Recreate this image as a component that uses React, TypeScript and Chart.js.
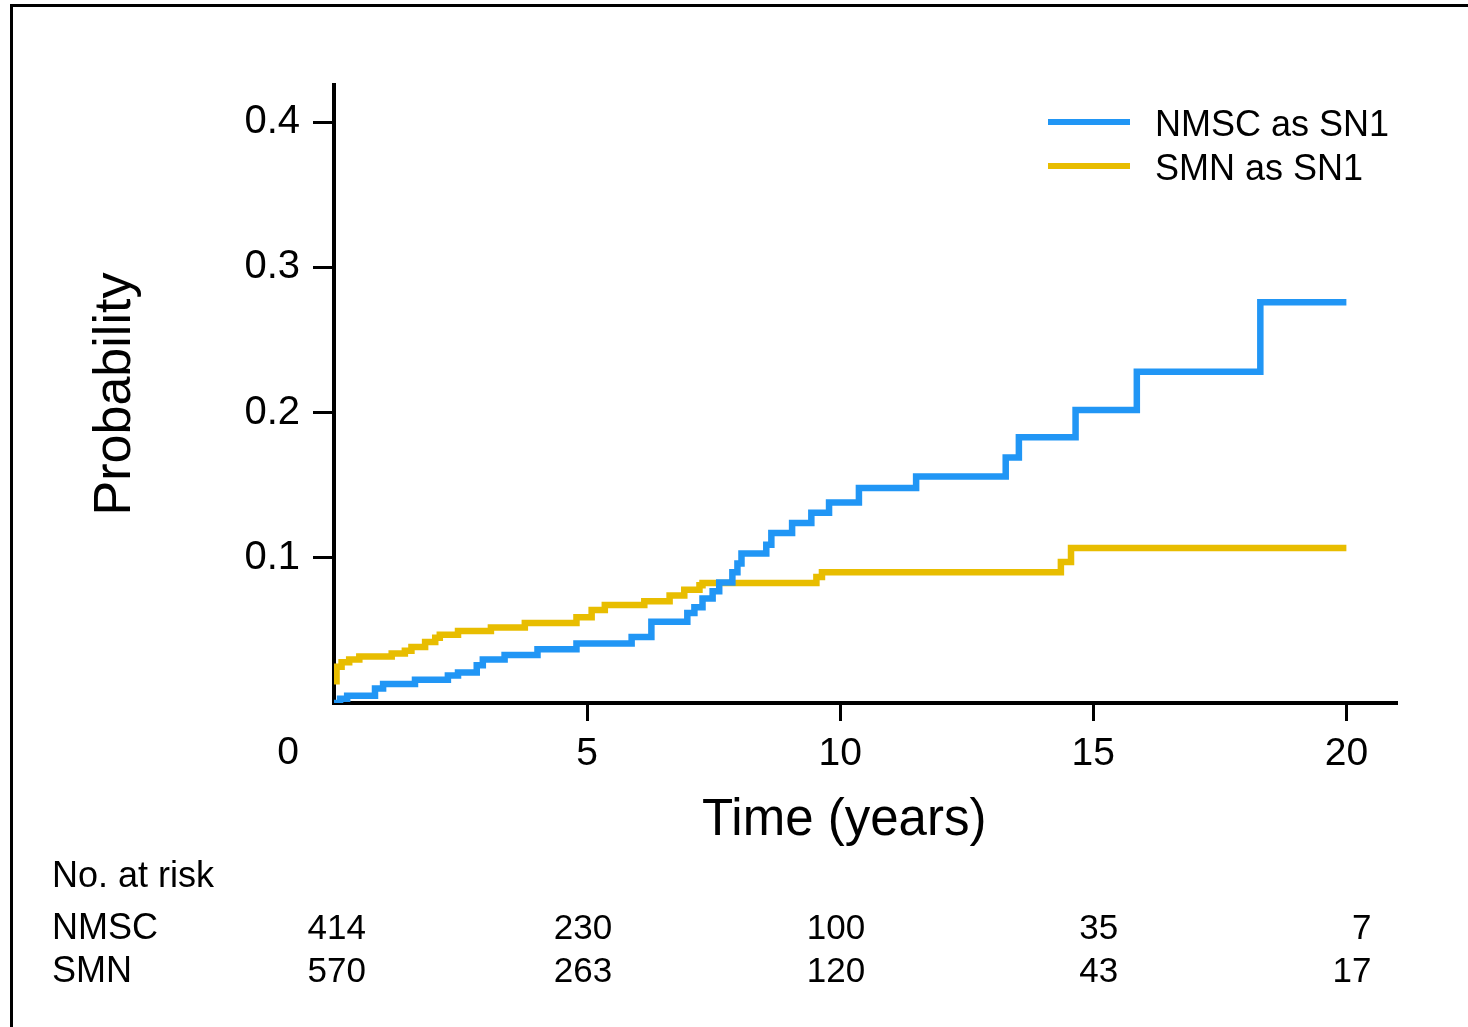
import React, { useEffect, useRef } from 'react';
import { Chart, registerables } from 'chart.js';

Chart.register(...registerables);

const FONT = "'Liberation Sans', Arial, Helvetica, sans-serif";

// Cumulative incidence step curves (time in years, probability)
const nmscTimes = [0, 0.12, 0.26, 0.81, 0.97, 1.6, 2.25, 2.45, 2.82, 2.94, 3.37, 4.02, 4.79, 5.88, 6.27, 6.98, 7.12, 7.28, 7.48, 7.61, 7.87, 7.97, 8.05, 8.54, 8.64, 9.05, 9.43, 9.78, 10.37, 11.5, 13.27, 13.53, 14.65, 15.86, 18.3, 20];
const nmscProb = [0, 0.003, 0.005, 0.01, 0.013, 0.016, 0.019, 0.021, 0.026, 0.03, 0.033, 0.037, 0.041, 0.0455, 0.056, 0.062, 0.066, 0.072, 0.077, 0.083, 0.09, 0.096, 0.103, 0.109, 0.117, 0.124, 0.131, 0.138, 0.148, 0.156, 0.169, 0.183, 0.2017, 0.228, 0.276, 0.276];

const smnTimes = [0, 0.05, 0.15, 0.3, 0.5, 1.14, 1.4, 1.53, 1.8, 2.0, 2.09, 2.45, 3.1, 3.77, 4.79, 5.09, 5.35, 6.13, 6.63, 6.92, 7.22, 7.28, 9.53, 9.64, 14.36, 14.56, 20];
const smnProb = [0.015, 0.025, 0.028, 0.03, 0.032, 0.034, 0.036, 0.0386, 0.042, 0.045, 0.047, 0.0496, 0.052, 0.055, 0.059, 0.064, 0.0675, 0.07, 0.074, 0.078, 0.081, 0.0826, 0.0867, 0.09, 0.097, 0.1067, 0.1067];

const seriesLabels = ['NMSC as SN1', 'SMN as SN1'];
const seriesColors = ['#2196f5', '#e8bd00'];

const xTickValues = [5, 10, 15, 20];
const yTickValues = [0.1, 0.2, 0.3, 0.4];

const riskTimes = [0, 5, 10, 15, 20];
const riskRowLabels = ['NMSC', 'SMN'];
const riskNMSC = [414, 230, 100, 35, 7];
const riskSMN = [570, 263, 120, 43, 17];

const overlayPlugin = {
  id: 'overlay',
  afterDraw(chart: any) {
    const ctx = chart.ctx;
    const xs = chart.scales.x;
    const area = chart.chartArea;
    ctx.save();
    ctx.fillStyle = '#000';

    // origin label
    ctx.font = `39px ${FONT}`;
    ctx.textAlign = 'center';
    ctx.textBaseline = 'middle';
    ctx.fillText('0', xs.getPixelForValue(0) - 46, xs.top + 50);

    // legend
    ctx.font = `36px ${FONT}`;
    ctx.textAlign = 'left';
    chart.data.datasets.forEach((ds: any, i: number) => {
      const y = area.top + 37 + i * 44;
      ctx.strokeStyle = ds.borderColor;
      ctx.lineWidth = 6;
      ctx.beginPath();
      ctx.moveTo(area.right - 349, y);
      ctx.lineTo(area.right - 267, y);
      ctx.stroke();
      ctx.fillStyle = '#000';
      ctx.fillText(ds.label, area.right - 242, y + 4);
    });

    // number at risk table
    ctx.font = `36px ${FONT}`;
    ctx.textAlign = 'left';
    ctx.fillText('No. at risk', 52, xs.top + 174);
    const rows = [riskNMSC, riskSMN];
    rows.forEach((row, r) => {
      const y = xs.top + 226 + r * 43;
      ctx.font = `36px ${FONT}`;
      ctx.textAlign = 'left';
      ctx.fillText(riskRowLabels[r], 52, y);
      ctx.font = `35px ${FONT}`;
      ctx.textAlign = 'right';
      row.forEach((n, j) => {
        const off = j === 0 ? 32 : 25;
        ctx.fillText(String(n), xs.getPixelForValue(riskTimes[j]) + off, y);
      });
    });
    ctx.restore();
  },
};

export default function App() {
  const canvasRef = useRef<HTMLCanvasElement | null>(null);

  useEffect(() => {
    if (!canvasRef.current) return;
    const chart = new Chart(canvasRef.current, {
      type: 'line',
      data: {
        datasets: [
          {
            label: seriesLabels[0],
            data: nmscTimes.map((t, i) => ({ x: t, y: nmscProb[i] })),
            borderColor: seriesColors[0],
            backgroundColor: seriesColors[0],
            borderWidth: 6.5,
            pointRadius: 0,
            stepped: 'before',
            fill: false,
          },
          {
            label: seriesLabels[1],
            data: smnTimes.map((t, i) => ({ x: t, y: smnProb[i] })),
            borderColor: seriesColors[1],
            backgroundColor: seriesColors[1],
            borderWidth: 6.5,
            pointRadius: 0,
            stepped: 'before',
            fill: false,
          },
        ],
      },
      options: {
        animation: false,
        responsive: false,
        devicePixelRatio: 1,
        layout: { padding: { left: 0, top: 85, right: 71, bottom: 0 } },
        plugins: {
          legend: { display: false },
          tooltip: { enabled: false },
        },
        scales: {
          x: {
            type: 'linear',
            min: 0,
            max: 21,
            afterBuildTicks: (scale: any) => {
              scale.ticks = xTickValues.map((v) => ({ value: v }));
            },
            afterFit: (scale: any) => {
              scale.height = 324;
            },
            border: { display: true, color: '#000', width: 4 },
            grid: {
              display: true,
              drawOnChartArea: false,
              drawTicks: true,
              tickLength: 18,
              tickWidth: 3,
              tickColor: '#000',
              color: '#000',
            },
            ticks: {
              color: '#000',
              font: { family: FONT, size: 39 },
              padding: 10,
              maxRotation: 0,
              autoSkip: false,
            },
            title: {
              display: true,
              text: 'Time (years)   ',
              color: '#000',
              font: { family: FONT, size: 51 },
              padding: { top: 0, bottom: 175 },
            },
          },
          y: {
            type: 'linear',
            min: 0,
            max: 0.4255,
            afterBuildTicks: (scale: any) => {
              scale.ticks = yTickValues.map((v) => ({ value: v }));
            },
            afterFit: (scale: any) => {
              scale.width = 334;
            },
            border: { display: true, color: '#000', width: 4 },
            grid: {
              display: true,
              drawOnChartArea: false,
              drawTicks: true,
              tickLength: 21,
              tickWidth: 3,
              tickColor: '#000',
              color: '#000',
            },
            ticks: {
              color: '#000',
              font: { family: FONT, size: 40 },
              padding: 13,
              callback: (v: any) => String(Number(v).toFixed(1)),
            },
            title: {
              display: true,
              text: 'Probability',
              color: '#000',
              font: { family: FONT, size: 52 },
              padding: { top: 84, bottom: 0 },
            },
          },
        },
      },
      plugins: [overlayPlugin],
    });
    return () => chart.destroy();
  }, []);

  return (
    <div style={{ position: 'absolute', left: 0, top: 0, width: 1468, height: 1027, background: '#fff' }}>
      <canvas ref={canvasRef} width={1468} height={1027} style={{ position: 'absolute', left: 0, top: 0 }} />
      <div
        style={{
          position: 'absolute',
          left: 10,
          top: 4,
          width: 1458,
          height: 1023,
          borderTop: '3px solid #000',
          borderLeft: '3px solid #000',
          boxSizing: 'border-box',
          pointerEvents: 'none',
        }}
      />
    </div>
  );
}
